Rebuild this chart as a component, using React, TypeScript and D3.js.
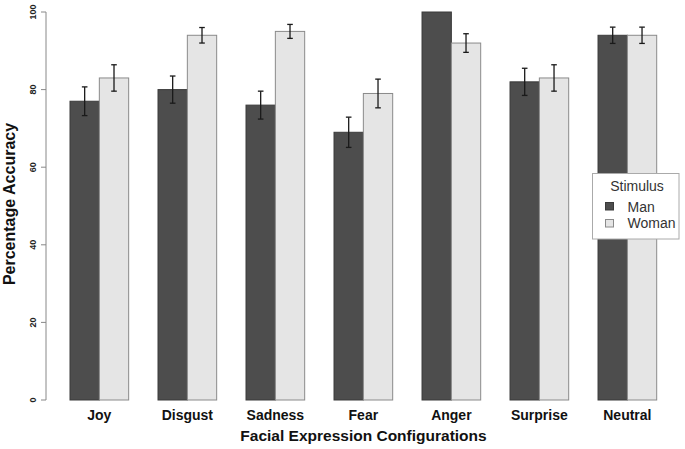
import React from "react";
import * as d3 from "d3";

const categories = ["Joy", "Disgust", "Sadness", "Fear", "Anger", "Surprise", "Neutral"];
const seriesNames = ["Man", "Woman"];
const manValues = [77, 80, 76, 69, 100, 82, 94];
const womanValues = [83, 94, 95, 79, 92, 83, 94];
const manErrors = [3.7, 3.5, 3.6, 3.9, 0, 3.5, 2.1];
const womanErrors = [3.4, 2.0, 1.8, 3.7, 2.4, 3.4, 2.1];
const yTicks = [0, 20, 40, 60, 80, 100];
const seriesColors = ["#4d4d4d", "#e5e5e5"];

export default function App() {
  const W = 685, H = 449;
  const x0 = d3.scaleBand<string>().domain(categories).range([70, 656.7]).paddingInner(1 / 3).paddingOuter(0);
  const x1 = d3.scaleBand<string>().domain(seriesNames).range([0, x0.bandwidth()]);
  const y = d3.scaleLinear().domain([0, 100]).range([400, 12]);
  const values = [manValues, womanValues];
  const errors = [manErrors, womanErrors];
  const font = "'Liberation Sans', Arial, sans-serif";

  return (
    <svg width={W} height={H} style={{ position: "absolute", left: 0, top: 0, background: "#fff" }} fontFamily={font}>
      {/* bars */}
      {categories.map((c, i) =>
        seriesNames.map((s, j) => {
          const v = values[j][i];
          const bx = (x0(c) ?? 0) + (x1(s) ?? 0);
          return (
            <rect key={c + s} x={bx} y={y(v)} width={x1.bandwidth()} height={y(0) - y(v)}
              fill={seriesColors[j]} stroke={j === 0 ? "#3a3a3a" : "#8a8a8a"} strokeWidth={1} />
          );
        })
      )}
      {/* error bars */}
      {categories.map((c, i) =>
        seriesNames.map((s, j) => {
          const v = values[j][i];
          const e = errors[j][i];
          if (!e) return null;
          const cx = (x0(c) ?? 0) + (x1(s) ?? 0) + x1.bandwidth() / 2;
          const t = y(v + e), b = y(v - e);
          return (
            <g key={"e" + c + s} stroke="#1a1a1a" strokeWidth={1.3}>
              <line x1={cx} x2={cx} y1={t} y2={b} />
              <line x1={cx - 2.8} x2={cx + 2.8} y1={t} y2={t} />
              <line x1={cx - 2.8} x2={cx + 2.8} y1={b} y2={b} />
            </g>
          );
        })
      )}
      {/* y axis */}
      <line x1={46} x2={46} y1={y(0)} y2={y(100)} stroke="#888" strokeWidth={1} />
      {yTicks.map((t) => (
        <g key={t}>
          <line x1={41} x2={46} y1={y(t)} y2={y(t)} stroke="#888" strokeWidth={1} />
          <text transform={`translate(35.5,${y(t)}) rotate(-90)`} textAnchor="middle" fontSize={9} fontWeight="bold" fill="#222">{t}</text>
        </g>
      ))}
      {/* x labels */}
      {categories.map((c) => (
        <text key={c} x={(x0(c) ?? 0) + x0.bandwidth() / 2} y={420} textAnchor="middle" fontSize={14} fontWeight="bold" fill="#111">{c}</text>
      ))}
      <text x={363.5} y={441} textAnchor="middle" fontSize={15.5} fontWeight="bold" fill="#111">Facial Expression Configurations</text>
      <text transform={`translate(15,204) rotate(-90)`} textAnchor="middle" fontSize={16} fontWeight="bold" fill="#111">Percentage Accuracy</text>
      {/* legend */}
      <g>
        <rect x={592.5} y={173.5} width={86.5} height={65.5} fill="#fff" stroke="#aaa" strokeWidth={1} />
        <text x={637} y={191} textAnchor="middle" fontSize={14} fill="#333">Stimulus</text>
        {seriesNames.map((s, j) => (
          <g key={s}>
            <rect x={605.5} y={202.5 + j * 17} width={8} height={7.5} fill={seriesColors[j]} stroke={j === 0 ? "#3a3a3a" : "#8a8a8a"} />
            <text x={627.5} y={211.5 + j * 16.7} fontSize={14} fill="#333">{s}</text>
          </g>
        ))}
      </g>
    </svg>
  );
}
